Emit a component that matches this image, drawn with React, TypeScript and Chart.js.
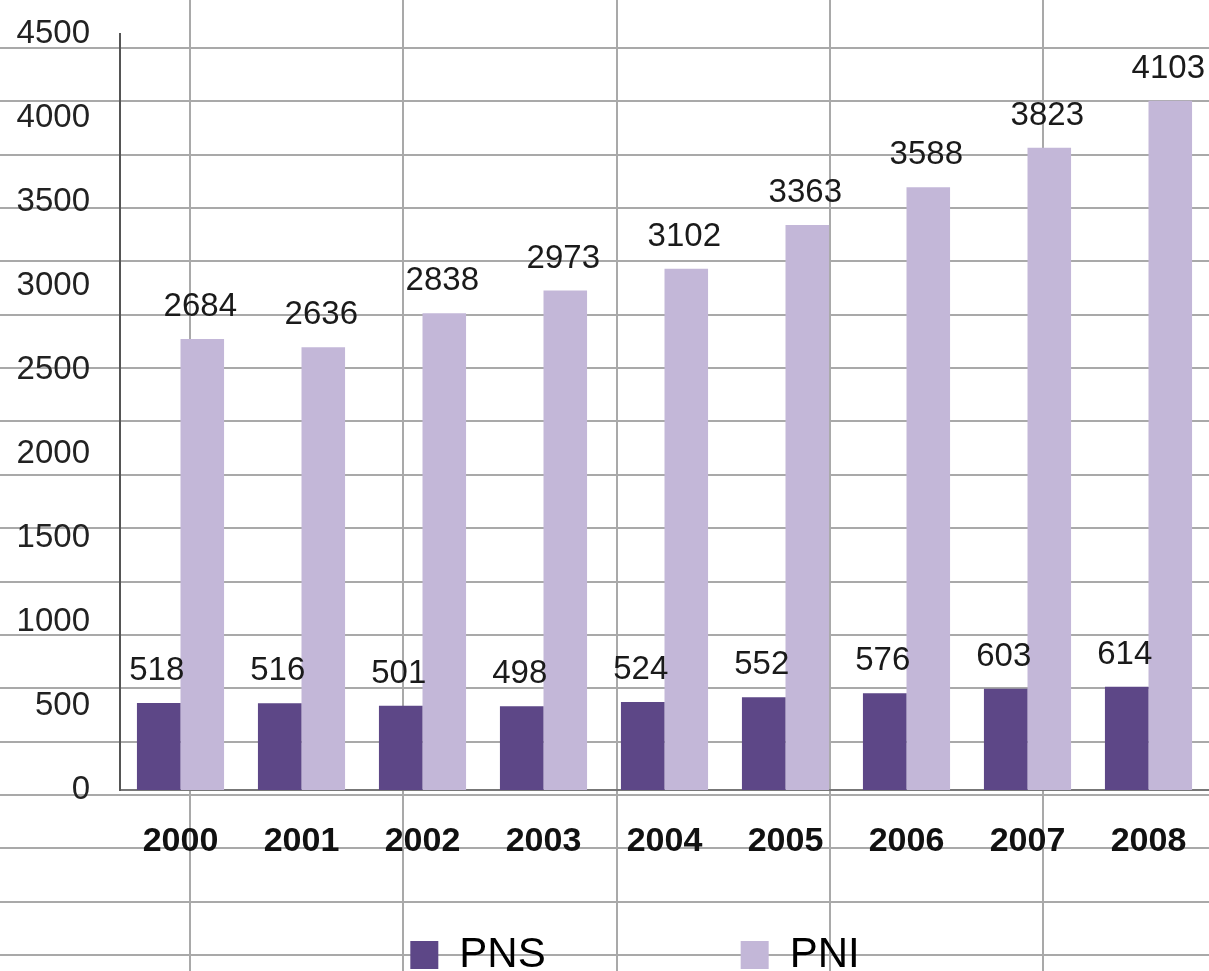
import { useEffect, useRef } from "react";
import { Chart, registerables } from "chart.js";

Chart.register(...registerables);

const years = ["2000", "2001", "2002", "2003", "2004", "2005", "2006", "2007", "2008"];
const pnsValues = [518, 516, 501, 498, 524, 552, 576, 603, 614];
const pniValues = [2684, 2636, 2838, 2973, 3102, 3363, 3588, 3823, 4103];
const seriesNames = ["PNS", "PNI"];
const yMin = 0;
const yMax = 4500;
const yStep = 500;

const FONT = '"Liberation Sans", Arial, sans-serif';
const PNS_COLOR = "#5d4787";
const PNI_COLOR = "#c3b7d8";

// spreadsheet cell grid behind the chart (decoration, not data)
const sheetGrid = {
  id: "sheetGrid",
  beforeDraw(chart: any) {
    const { ctx, width, height } = chart;
    ctx.save();
    ctx.fillStyle = "#ffffff";
    ctx.fillRect(0, 0, width, height);
    ctx.strokeStyle = "#a9a9a9";
    ctx.lineWidth = 2;
    const rowH = 53.35;
    const colW = 213.3;
    for (let y = 48; y < height; y += rowH) {
      ctx.beginPath();
      ctx.moveTo(0, Math.round(y));
      ctx.lineTo(width, Math.round(y));
      ctx.stroke();
    }
    for (let x = 190; x < width; x += colW) {
      ctx.beginPath();
      ctx.moveTo(Math.round(x), 0);
      ctx.lineTo(Math.round(x), height);
      ctx.stroke();
    }
    ctx.restore();
  },
};

const valueLabels = {
  id: "valueLabels",
  afterDatasetsDraw(chart: any) {
    const { ctx } = chart;
    ctx.save();
    ctx.font = `33px ${FONT}`;
    ctx.fillStyle = "#1a1a1a";
    ctx.textAlign = "center";
    ctx.textBaseline = "alphabetic";
    chart.data.datasets.forEach((ds: any, di: number) => {
      const meta = chart.getDatasetMeta(di);
      meta.data.forEach((el: any, i: number) => {
        ctx.fillText(String(ds.data[i]), el.x - 2, el.y - 23);
      });
    });
    ctx.restore();
  },
};

export default function App() {
  const canvasRef = useRef<HTMLCanvasElement | null>(null);

  useEffect(() => {
    if (!canvasRef.current) return;
    const chart = new Chart(canvasRef.current, {
      type: "bar",
      data: {
        labels: years,
        datasets: [
          {
            label: seriesNames[0],
            data: pnsValues,
            backgroundColor: PNS_COLOR,
            borderWidth: 0,
            categoryPercentage: 0.72,
            barPercentage: 1,
          },
          {
            label: seriesNames[1],
            data: pniValues,
            backgroundColor: PNI_COLOR,
            borderWidth: 0,
            categoryPercentage: 0.72,
            barPercentage: 1,
          },
        ],
      },
      options: {
        responsive: false,
        animation: false,
        layout: { padding: { top: 34, left: 0, right: 0, bottom: 0 } },
        plugins: {
          tooltip: { enabled: false },
          legend: {
            position: "bottom",
            onClick: () => {},
            labels: {
              font: { family: FONT, size: 42 },
              color: "#000",
              boxWidth: 28,
              boxHeight: 28,
              padding: 12,
              generateLabels: (c: any) => {
                const items = (Chart as any).defaults.plugins.legend.labels.generateLabels(c);
                const spacer = () => ({
                  text: "",
                  fillStyle: "rgba(0,0,0,0)",
                  strokeStyle: "rgba(0,0,0,0)",
                  lineWidth: 0,
                  hidden: false,
                  datasetIndex: -1,
                });
                return [spacer(), items[0], spacer(), spacer(), spacer(), items[1]];
              },
            },
          },
        },
        scales: {
          x: {
            grid: { display: false, drawTicks: true, tickLength: 31 },
            border: { display: true, color: "#777", width: 2 },
            ticks: {
              font: { family: FONT, size: 34, weight: "bold" },
              color: "#111",
              padding: 0,
              maxRotation: 0,
            },
            afterFit: (s: any) => {
              s.height = 132;
            },
          },
          y: {
            min: yMin,
            max: yMax,
            grid: { display: false, drawTicks: true, tickLength: 30 },
            border: { display: true, color: "#555", width: 2 },
            ticks: {
              stepSize: yStep,
              font: { family: FONT, size: 33 },
              color: "#222",
              padding: 0,
              callback: (v: any) => String(v),
            },
            afterFit: (s: any) => {
              s.width = 120;
            },
          },
        },
      },
      plugins: [sheetGrid, valueLabels],
    });
    return () => chart.destroy();
  }, []);

  return (
    <div
      style={{
        position: "fixed",
        top: 0,
        left: 0,
        width: 1209,
        height: 971,
        overflow: "hidden",
        background: "#fff",
      }}
    >
      <canvas ref={canvasRef} width={1209} height={986} style={{ display: "block" }} />
    </div>
  );
}
